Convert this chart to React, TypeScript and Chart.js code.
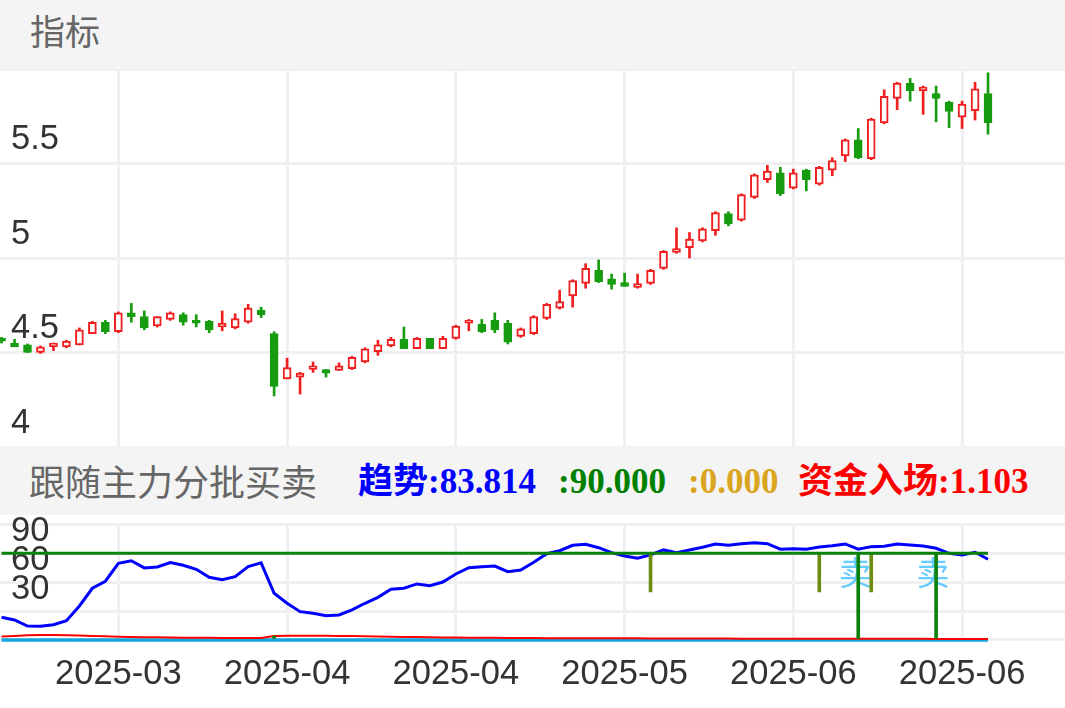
import React, { useEffect, useRef } from 'react';
import { Chart, registerables } from 'chart.js';

Chart.register(...registerables);

// ---- candle data (index 0..76) ----
const opens = [
  4.57, 4.55, 4.54, 4.50, 4.53, 4.53, 4.54, 4.60, 4.66, 4.61,
  4.71, 4.69, 4.64, 4.675, 4.70, 4.67, 4.665, 4.635, 4.63, 4.66,
  4.725, 4.60, 4.36, 4.37, 4.41, 4.41, 4.405, 4.415, 4.45, 4.505,
  4.535, 4.57, 4.52, 4.575, 4.52, 4.575, 4.655, 4.65, 4.67, 4.655,
  4.585, 4.60, 4.68, 4.735, 4.80, 4.865, 4.935, 4.89, 4.87, 4.845,
  4.865, 4.945, 5.03, 5.055, 5.09, 5.145, 5.235, 5.20, 5.32, 5.415,
  5.45, 5.37, 5.465, 5.39, 5.465, 5.54, 5.625, 5.525, 5.715, 5.845,
  5.925, 5.885, 5.87, 5.825, 5.745, 5.78, 5.87,
];
const closes = [
  4.56, 4.53, 4.50, 4.53, 4.55, 4.56, 4.62, 4.66, 4.61, 4.71,
  4.69, 4.63, 4.69, 4.71, 4.66, 4.655, 4.62, 4.655, 4.68, 4.735,
  4.70, 4.32, 4.42, 4.39, 4.43, 4.39, 4.43, 4.475, 4.52, 4.54,
  4.57, 4.52, 4.575, 4.52, 4.575, 4.64, 4.67, 4.61, 4.62, 4.555,
  4.625, 4.69, 4.755, 4.77, 4.88, 4.945, 4.875, 4.86, 4.85, 4.865,
  4.935, 5.035, 5.05, 5.10, 5.155, 5.24, 5.18, 5.335, 5.44, 5.46,
  5.34, 5.45, 5.415, 5.48, 5.515, 5.625, 5.53, 5.735, 5.855, 5.925,
  5.885, 5.905, 5.845, 5.775, 5.815, 5.895, 5.715,
];
const highs = [
  4.58, 4.57, 4.545, 4.535, 4.55, 4.565, 4.63, 4.665, 4.67, 4.715,
  4.76, 4.72, 4.69, 4.715, 4.71, 4.70, 4.67, 4.72, 4.705, 4.755,
  4.74, 4.61, 4.47, 4.395, 4.45, 4.41, 4.445, 4.48, 4.525, 4.565,
  4.58, 4.635, 4.58, 4.575, 4.586, 4.645, 4.675, 4.675, 4.71, 4.67,
  4.63, 4.695, 4.76, 4.83, 4.885, 4.97, 4.99, 4.915, 4.92, 4.915,
  4.94, 5.04, 5.16, 5.135, 5.16, 5.245, 5.245, 5.34, 5.445, 5.49,
  5.48, 5.47, 5.47, 5.485, 5.53, 5.63, 5.685, 5.74, 5.89, 5.93,
  5.95, 5.91, 5.91, 5.83, 5.83, 5.93, 5.98,
];
const lows = [
  4.55, 4.53, 4.50, 4.495, 4.51, 4.525, 4.54, 4.60, 4.60, 4.605,
  4.66, 4.62, 4.635, 4.67, 4.645, 4.635, 4.605, 4.615, 4.625, 4.655,
  4.685, 4.27, 4.36, 4.28, 4.395, 4.37, 4.405, 4.41, 4.445, 4.485,
  4.53, 4.52, 4.52, 4.52, 4.52, 4.57, 4.615, 4.605, 4.605, 4.545,
  4.58, 4.595, 4.675, 4.73, 4.74, 4.84, 4.87, 4.835, 4.85, 4.84,
  4.86, 4.94, 5.025, 5.00, 5.085, 5.12, 5.17, 5.195, 5.315, 5.40,
  5.33, 5.365, 5.355, 5.385, 5.435, 5.51, 5.525, 5.52, 5.71, 5.785,
  5.83, 5.76, 5.72, 5.69, 5.685, 5.73, 5.655,
];

// ---- indicator data ----
const trendValues = [
  23.6, 20.8, 14.5, 14.2, 15.9, 20.0, 35.3, 53.7, 61.0, 79.6,
  82.3, 74.8, 75.8, 80.3, 77.6, 73.4, 65.1, 62.6, 65.7, 76.1,
  80.0, 48.5, 38.1, 29.4, 27.7, 25.2, 26.0, 31.2, 38.1, 44.3,
  52.6, 53.7, 58.2, 56.4, 60.2, 68.5, 75.1, 76.1, 76.8, 70.9,
  72.7, 80.7, 89.6, 92.7, 98.3, 99.4, 95.8, 90.7, 87.2, 84.8,
  88.3, 93.5, 90.7, 93.5, 96.3, 99.7, 98.3, 100.0, 101.0, 100.0,
  94.2, 94.8, 94.2, 96.6, 97.9, 99.7, 94.2, 96.9, 97.3, 99.7,
  98.7, 97.6, 95.2, 90.0, 88.3, 91.1, 83.814,
];
const fundValues = [
  3.5, 4.2, 4.8, 5.2, 5.2, 5.0, 4.6, 4.2, 3.8, 3.4,
  3.1, 2.9, 2.7, 2.5, 2.4, 2.3, 2.2, 2.1, 2.0, 2.0,
  2.0, 4.0, 4.3, 4.4, 4.4, 4.3, 4.2, 4.0, 3.8, 3.6,
  3.4, 3.2, 3.0, 2.8, 2.6, 2.5, 2.4, 2.3, 2.2, 2.1,
  2.0, 2.0, 1.9, 1.9, 1.8, 1.8, 1.8, 1.7, 1.7, 1.7,
  1.6, 1.6, 1.6, 1.5, 1.5, 1.5, 1.5, 1.4, 1.4, 1.4,
  1.4, 1.3, 1.3, 1.3, 1.3, 1.3, 1.2, 1.2, 1.2, 1.2,
  1.2, 1.2, 1.1, 1.1, 1.1, 1.1, 1.103,
];
const levelValue = 90;
const baseValue = 0;
const warnIdx = [50, 63, 67];
const warnLow = 50;
const sellIdx = [66, 72];
const sellText = '卖';
const sellTextValue = 70;
const entryIdx = [21];
const entryHigh = 4;

const tickIdx = [9, 22, 35, 48, 61, 74];
const tickLabels = ['2025-03', '2025-04', '2025-04', '2025-05', '2025-06', '2025-06'];
const priceTicks = [4, 4.5, 5, 5.5, 6];
const indTicks = [0, 30, 60, 90, 120];
const indLabels = ['', '30', '60', '90', ''];

const X_MIN = -0.118;
const X_MAX = 81.93;
const RED = '#f01e1e';
const GREEN = '#169c0e';
const GRID = '#f0f0f2';
const LABEL_FONT = { family: '"Liberation Sans", Arial, sans-serif', size: 34.5 };

const zeroPad = (s: any) => {
  s.paddingTop = 0;
  s.paddingBottom = 0;
  s.paddingLeft = 0;
  s.paddingRight = 0;
};

export default function App() {
  const topRef = useRef<HTMLCanvasElement>(null);
  const botRef = useRef<HTMLCanvasElement>(null);

  useEffect(() => {
    document.body.style.margin = '0';
    const idx = opens.map((_, i) => i);
    const up = (i: number) => closes[i] >= opens[i];

    const xScale = (showLabels: boolean, height: number) => ({
      type: 'linear',
      min: X_MIN,
      max: X_MAX,
      offset: false,
      grid: { color: GRID, lineWidth: 3, drawTicks: false, offset: false },
      border: { display: false },
      afterBuildTicks: (a: any) => {
        a.ticks = tickIdx.map((v) => ({ value: v }));
      },
      ticks: {
        display: showLabels,
        padding: 11.5,
        maxRotation: 0,
        autoSkip: false,
        color: '#333',
        font: LABEL_FONT,
        callback: (_v: any, i: number) => tickLabels[i],
      },
      afterFit: (s: any) => {
        s.height = height;
        zeroPad(s);
      },
    });

    const c1 = new Chart(topRef.current!, {
      type: 'bar',
      data: {
        datasets: [
          {
            label: 'body',
            data: idx.map((i) => ({ x: i, y: [opens[i], closes[i]] })),
            backgroundColor: (ctx: any) => (up(ctx.dataIndex) ? '#ffffff' : GREEN),
            borderColor: (ctx: any) => (up(ctx.dataIndex) ? RED : GREEN),
            borderWidth: 2,
            borderSkipped: false,
            barThickness: 8,
            minBarLength: 3,
            grouped: false,
          } as any,
          {
            label: 'wick',
            data: idx.map((i) => ({ x: i, y: [lows[i], highs[i]] })),
            backgroundColor: (ctx: any) => (up(ctx.dataIndex) ? RED : GREEN),
            borderWidth: 0,
            barThickness: 2,
            grouped: false,
          } as any,
        ],
      },
      options: {
        animation: false,
        responsive: false,
        maintainAspectRatio: false,
        layout: { padding: 0 },
        plugins: { legend: { display: false }, tooltip: { enabled: false } },
        scales: {
          x: xScale(false, 0),
          y: {
            min: 4,
            max: 6,
            grid: { color: GRID, lineWidth: 3, drawTicks: false },
            border: { display: false },
            afterBuildTicks: (a: any) => {
              a.ticks = priceTicks.map((v) => ({ value: v }));
            },
            ticks: {
              mirror: true,
              padding: 11,
              labelOffset: -24,
              autoSkip: false,
              color: '#333',
              font: LABEL_FONT,
              callback: (v: any) => (v === 6 ? '' : String(v)),
            },
            afterFit: (s: any) => {
              s.width = 0;
              zeroPad(s);
            },
          },
        },
      } as any,
    });

    const sellTextPlugin = {
      id: 'sellText',
      beforeDatasetsDraw(chart: any) {
        const { ctx, scales } = chart;
        ctx.save();
        ctx.fillStyle = '#66ccff';
        ctx.font = '33px "Noto Sans CJK SC", sans-serif';
        ctx.textAlign = 'center';
        ctx.textBaseline = 'middle';
        sellIdx.forEach((i) => {
          ctx.fillText(sellText, scales.x.getPixelForValue(i) - 3, scales.y.getPixelForValue(sellTextValue));
        });
        ctx.restore();
      },
    };

    const c2 = new Chart(botRef.current!, {
      type: 'bar',
      data: {
        datasets: [
          {
            type: 'line',
            label: 'level',
            data: idx.map((i) => ({ x: i, y: levelValue })),
            borderColor: '#0a820a',
            borderWidth: 3,
            pointRadius: 0,
          },
          {
            type: 'bar',
            label: 'sell',
            data: sellIdx.map((i) => ({ x: i, y: [baseValue, levelValue] })),
            backgroundColor: '#0a820a',
            barThickness: 3,
            grouped: false,
          },
          {
            type: 'bar',
            label: 'warn',
            data: warnIdx.map((i) => ({ x: i, y: [warnLow, levelValue] })),
            backgroundColor: '#6b8e10',
            barThickness: 3,
            grouped: false,
          },
          {
            type: 'bar',
            label: 'entry',
            data: entryIdx.map((i) => ({ x: i, y: [baseValue, entryHigh] })),
            backgroundColor: '#0a820a',
            barThickness: 3,
            grouped: false,
          },
          {
            type: 'line',
            label: '趋势',
            data: idx.map((i) => ({ x: i, y: trendValues[i] })),
            borderColor: '#0000ff',
            borderWidth: 3,
            pointRadius: 0,
          },
          {
            type: 'line',
            label: '资金入场',
            data: idx.map((i) => ({ x: i, y: fundValues[i] })),
            borderColor: '#ff0000',
            borderWidth: 2,
            pointRadius: 0,
          },
          {
            type: 'line',
            label: 'base',
            data: idx.map((i) => ({ x: i, y: baseValue })),
            borderColor: '#15a4dc',
            borderWidth: 3.5,
            pointRadius: 0,
          },
        ],
      } as any,
      options: {
        animation: false,
        responsive: false,
        maintainAspectRatio: false,
        layout: { padding: { top: 9.4, left: 0, right: 0, bottom: 0 } },
        plugins: { legend: { display: false }, tooltip: { enabled: false } },
        scales: {
          x: xScale(true, 66.1),
          y: {
            min: -2,
            max: 120,
            grid: { color: GRID, lineWidth: 3, drawTicks: false },
            border: { display: false },
            afterBuildTicks: (a: any) => {
              a.ticks = indTicks.map((v) => ({ value: v }));
            },
            ticks: {
              mirror: true,
              padding: 11,
              labelOffset: -22,
              autoSkip: false,
              color: '#333',
              font: LABEL_FONT,
              callback: (_v: any, i: number) => indLabels[i],
            },
            afterFit: (s: any) => {
              s.width = 0;
              zeroPad(s);
            },
          },
        },
      } as any,
      plugins: [sellTextPlugin],
    });

    return () => {
      c1.destroy();
      c2.destroy();
    };
  }, []);

  const cjk = '"Noto Sans CJK SC", sans-serif';
  const valFont = '"Liberation Serif", "Noto Sans CJK SC", serif';
  const valStyle = (left: number, color: string): React.CSSProperties => ({
    position: 'absolute',
    left,
    top: 17.3,
    fontSize: 35,
    lineHeight: 1,
    fontWeight: 700,
    fontFamily: valFont,
    color,
    whiteSpace: 'nowrap',
  });

  return (
    <div style={{ position: 'relative', width: 1065, height: 708, background: '#fff', overflow: 'hidden' }}>
      <div style={{ position: 'absolute', left: 0, top: 0, width: 1065, height: 69, background: '#f4f4f4' }}>
        <span
          style={{
            position: 'absolute',
            left: 30,
            top: 12.2,
            fontSize: 35,
            lineHeight: 1,
            color: '#666',
            fontFamily: cjk,
            whiteSpace: 'nowrap',
          }}
        >
          指标
        </span>
      </div>
      <canvas ref={topRef} width={1065} height={378} style={{ position: 'absolute', left: 0, top: 69, display: 'block' }} />
      <div style={{ position: 'absolute', left: 0, top: 447, width: 1065, height: 68, background: '#f4f4f4' }}>
        <span
          style={{
            position: 'absolute',
            left: 29,
            top: 14.7,
            fontSize: 36,
            lineHeight: 1,
            color: '#666',
            fontFamily: cjk,
            whiteSpace: 'nowrap',
          }}
        >
          跟随主力分批买卖
        </span>
        <span style={valStyle(358, '#0000ff')}>趋势:83.814</span>
        <span style={valStyle(558, '#008000')}>:90.000</span>
        <span style={valStyle(688, '#daa520')}>:0.000</span>
        <span style={valStyle(798, '#ff0000')}>资金入场:1.103</span>
      </div>
      <canvas ref={botRef} width={1065} height={193} style={{ position: 'absolute', left: 0, top: 515, display: 'block' }} />
    </div>
  );
}
